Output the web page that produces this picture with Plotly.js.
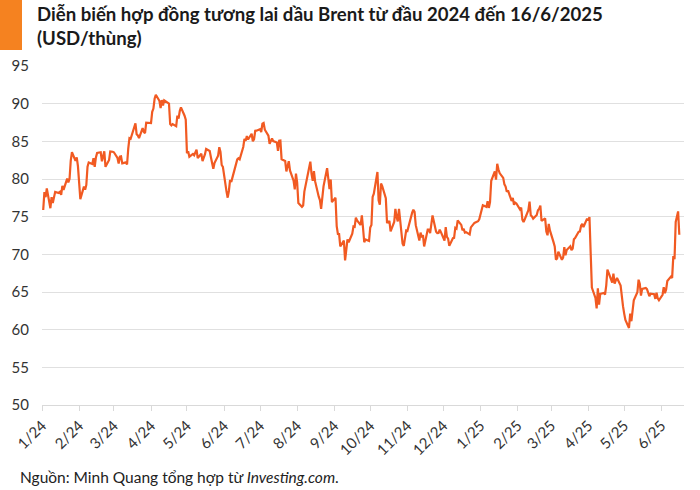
<!DOCTYPE html>
<html>
<head>
<meta charset="utf-8">
<script src="https://cdn.plot.ly/plotly-3.0.1.min.js"></script>
<style>html,body{margin:0;padding:0;background:#fff;}#chart{width:700px;height:490px;}</style>
</head>
<body>
<div id="chart"></div>
<script>
const dates2024 = [
'2024-01-02','2024-01-03','2024-01-04','2024-01-05','2024-01-08','2024-01-09','2024-01-10','2024-01-11','2024-01-12','2024-01-15','2024-01-16','2024-01-17','2024-01-18','2024-01-19','2024-01-22','2024-01-23','2024-01-24','2024-01-25','2024-01-26','2024-01-29','2024-01-30','2024-01-31',
'2024-02-01','2024-02-02','2024-02-05','2024-02-06','2024-02-07','2024-02-08','2024-02-09','2024-02-12','2024-02-13','2024-02-14','2024-02-15','2024-02-16','2024-02-19','2024-02-20','2024-02-21','2024-02-22','2024-02-23','2024-02-26','2024-02-27','2024-02-28','2024-02-29',
'2024-03-01','2024-03-04','2024-03-05','2024-03-06','2024-03-07','2024-03-08','2024-03-11','2024-03-12','2024-03-13','2024-03-14','2024-03-15','2024-03-18','2024-03-19','2024-03-20','2024-03-21','2024-03-22','2024-03-25','2024-03-26','2024-03-27','2024-03-28',
'2024-04-01','2024-04-02','2024-04-03','2024-04-04','2024-04-05','2024-04-08','2024-04-09','2024-04-10','2024-04-11','2024-04-12','2024-04-15','2024-04-16','2024-04-17','2024-04-18','2024-04-19','2024-04-22','2024-04-23','2024-04-24','2024-04-25','2024-04-26','2024-04-29','2024-04-30',
'2024-05-01','2024-05-02','2024-05-03','2024-05-06','2024-05-07','2024-05-08','2024-05-09','2024-05-10','2024-05-13','2024-05-14','2024-05-15','2024-05-16','2024-05-17','2024-05-20','2024-05-21','2024-05-22','2024-05-23','2024-05-24','2024-05-27','2024-05-28','2024-05-29','2024-05-30','2024-05-31',
'2024-06-03','2024-06-04','2024-06-05','2024-06-06','2024-06-07','2024-06-10','2024-06-11','2024-06-12','2024-06-13','2024-06-14','2024-06-17','2024-06-18','2024-06-19','2024-06-20','2024-06-21','2024-06-24','2024-06-25','2024-06-26','2024-06-27','2024-06-28',
'2024-07-01','2024-07-02','2024-07-03','2024-07-04','2024-07-05','2024-07-08','2024-07-09','2024-07-10','2024-07-11','2024-07-12','2024-07-15','2024-07-16','2024-07-17','2024-07-18','2024-07-19','2024-07-22','2024-07-23','2024-07-24','2024-07-25','2024-07-26','2024-07-29','2024-07-30','2024-07-31',
'2024-08-01','2024-08-02','2024-08-05','2024-08-06','2024-08-07','2024-08-08','2024-08-09','2024-08-12','2024-08-13','2024-08-14','2024-08-15','2024-08-16','2024-08-19','2024-08-20','2024-08-21','2024-08-22','2024-08-23','2024-08-26','2024-08-27','2024-08-28','2024-08-29','2024-08-30',
'2024-09-02','2024-09-03','2024-09-04','2024-09-05','2024-09-06','2024-09-09','2024-09-10','2024-09-11','2024-09-12','2024-09-13','2024-09-16','2024-09-17','2024-09-18','2024-09-19','2024-09-20','2024-09-23','2024-09-24','2024-09-25','2024-09-26','2024-09-27','2024-09-30',
'2024-10-01','2024-10-02','2024-10-03','2024-10-04','2024-10-07','2024-10-08','2024-10-09','2024-10-10','2024-10-11','2024-10-14','2024-10-15','2024-10-16','2024-10-17','2024-10-18','2024-10-21','2024-10-22','2024-10-23','2024-10-24','2024-10-25','2024-10-28','2024-10-29','2024-10-30','2024-10-31',
'2024-11-01','2024-11-04','2024-11-05','2024-11-06','2024-11-07','2024-11-08','2024-11-11','2024-11-12','2024-11-13','2024-11-14','2024-11-15','2024-11-18','2024-11-19','2024-11-20','2024-11-21','2024-11-22','2024-11-25','2024-11-26','2024-11-27','2024-11-28','2024-11-29',
'2024-12-02','2024-12-03','2024-12-04','2024-12-05','2024-12-06','2024-12-09','2024-12-10','2024-12-11','2024-12-12','2024-12-13','2024-12-16','2024-12-17','2024-12-18','2024-12-19','2024-12-20','2024-12-23','2024-12-24','2024-12-27','2024-12-30','2024-12-31'
];
const prices2024 = [
75.89,78.25,77.59,78.76,76.12,77.59,76.80,77.41,78.29,78.15,78.29,77.88,79.10,78.56,80.06,79.55,80.04,82.43,83.55,82.40,82.87,81.71,
78.70,77.33,78.99,78.59,79.21,81.63,82.19,82.00,82.77,81.60,82.86,83.47,83.56,82.34,83.03,83.67,81.62,82.53,83.65,83.68,83.62,
83.55,82.80,82.04,82.96,83.00,82.08,82.21,81.92,84.03,85.42,85.34,86.89,87.38,85.95,85.78,85.43,86.75,86.25,86.09,87.48,
87.42,88.92,89.35,90.65,91.17,90.38,89.42,90.48,89.74,90.45,90.10,90.02,87.29,87.11,87.29,87.00,88.42,88.02,89.01,89.50,88.40,87.86,
83.44,83.67,82.96,83.33,83.16,83.58,83.88,82.79,83.36,82.38,82.75,83.27,83.98,83.71,82.88,81.90,81.36,82.12,83.10,84.22,83.60,81.86,81.62,
78.36,77.52,78.41,79.87,79.62,81.63,81.92,82.60,82.75,82.62,84.25,85.33,85.07,85.71,85.24,86.01,85.01,85.25,86.39,86.41,
86.60,86.24,87.34,87.43,86.54,85.75,84.66,85.08,85.40,85.03,84.85,83.73,85.08,85.11,82.63,82.40,81.01,81.71,82.37,81.13,79.78,78.63,80.72,
79.52,76.81,76.30,76.48,78.33,79.16,79.66,82.30,80.69,79.76,81.04,79.68,77.66,77.20,76.05,77.22,79.02,81.43,79.55,78.65,79.94,76.93,
77.52,73.75,72.70,72.69,71.06,71.84,69.19,70.61,71.97,71.61,72.75,73.70,73.65,74.88,74.49,73.90,75.17,73.46,71.60,71.98,71.77,
73.56,73.90,77.62,78.05,80.93,77.18,76.58,79.40,79.04,77.46,74.25,74.22,74.45,73.06,74.29,76.04,74.96,74.38,76.05,71.42,71.12,72.55,73.16,
73.10,75.08,75.53,75.92,75.63,73.87,71.83,72.89,72.28,72.56,71.04,73.30,73.31,72.81,74.23,75.17,73.01,72.81,72.83,73.28,72.94,
71.83,73.62,72.31,72.09,71.12,72.14,72.19,73.52,73.41,74.49,73.91,73.19,73.39,72.88,72.94,72.63,73.58,74.17,74.39,74.64
];
const dates2025 = [
'2025-01-02','2025-01-03','2025-01-06','2025-01-07','2025-01-08','2025-01-09','2025-01-10','2025-01-13','2025-01-14','2025-01-15','2025-01-16','2025-01-17','2025-01-20','2025-01-21','2025-01-22','2025-01-23','2025-01-24','2025-01-27','2025-01-28','2025-01-29','2025-01-30','2025-01-31',
'2025-02-03','2025-02-04','2025-02-05','2025-02-06','2025-02-07','2025-02-10','2025-02-11','2025-02-12','2025-02-13','2025-02-14','2025-02-17','2025-02-18','2025-02-19','2025-02-20','2025-02-21','2025-02-24','2025-02-25','2025-02-26','2025-02-27','2025-02-28',
'2025-03-03','2025-03-04','2025-03-05','2025-03-06','2025-03-07','2025-03-10','2025-03-11','2025-03-12','2025-03-13','2025-03-14','2025-03-17','2025-03-18','2025-03-19','2025-03-20','2025-03-21','2025-03-24','2025-03-25','2025-03-26','2025-03-27','2025-03-28','2025-03-31',
'2025-04-01','2025-04-02','2025-04-03','2025-04-04','2025-04-07','2025-04-08','2025-04-09','2025-04-10','2025-04-11','2025-04-14','2025-04-15','2025-04-16','2025-04-17','2025-04-21','2025-04-22','2025-04-23','2025-04-24','2025-04-25','2025-04-28','2025-04-29','2025-04-30',
'2025-05-01','2025-05-02','2025-05-05','2025-05-06','2025-05-07','2025-05-08','2025-05-09','2025-05-12','2025-05-13','2025-05-14','2025-05-15','2025-05-16','2025-05-19','2025-05-20','2025-05-21','2025-05-22','2025-05-23','2025-05-26','2025-05-27','2025-05-28','2025-05-29','2025-05-30',
'2025-06-02','2025-06-03','2025-06-04','2025-06-05','2025-06-06','2025-06-09','2025-06-10','2025-06-11','2025-06-12','2025-06-13','2025-06-15','2025-06-16'
];
const prices2025 = [
75.93,76.51,76.30,77.05,76.16,76.92,79.76,81.01,79.92,82.03,81.29,80.79,80.15,79.29,79.00,78.29,78.50,77.08,77.49,76.58,76.87,76.76,
75.96,76.20,74.61,74.29,74.66,75.87,77.00,75.18,75.02,74.74,75.22,75.84,76.04,76.48,74.43,74.78,73.02,72.53,74.04,73.18,
71.62,71.04,69.30,69.46,70.36,69.28,69.56,70.95,69.88,70.58,71.07,70.56,70.78,72.00,72.16,73.00,73.02,73.79,74.03,73.63,74.74,
74.49,74.95,70.14,65.58,64.21,62.82,65.48,63.33,64.76,64.88,64.67,65.85,67.96,66.26,67.44,66.12,66.55,66.87,65.86,64.25,63.12,
62.13,61.29,60.23,62.15,61.12,62.84,63.91,64.96,66.63,66.09,64.53,65.41,65.54,65.38,64.91,64.44,64.78,64.70,64.09,64.90,64.15,63.90,
64.63,65.63,64.86,65.34,66.47,67.04,66.87,69.77,69.36,74.30,75.70,72.60
];
const monthTicks = ['2024-01-01','2024-02-01','2024-03-01','2024-04-01','2024-05-01','2024-06-01','2024-07-01','2024-08-01','2024-09-01','2024-10-01','2024-11-01','2024-12-01','2025-01-01','2025-02-01','2025-03-01','2025-04-01','2025-05-01','2025-06-01'];
const monthLabels = ['1/24','2/24','3/24','4/24','5/24','6/24','7/24','8/24','9/24','10/24','11/24','12/24','1/25','2/25','3/25','4/25','5/25','6/25'];
const yTicks = [50,55,60,65,70,75,80,85,90,95];

const titleText = 'Diễn biến hợp đồng tương lai dầu Brent từ đầu 2024 đến 16/6/2025<br>(USD/thùng)';
const sourceText = 'Nguồn: Minh Quang tổng hợp từ <i>Investing.com</i>.';

const trace = {
  x: dates2024.concat(dates2025),
  y: prices2024.concat(prices2025),
  type: 'scatter',
  mode: 'lines',
  line: {color: '#F15A22', width: 2.2},
  hoverinfo: 'skip'
};

const PH = 339, PW = 642;
const layout = {
  width: 700, height: 490,
  margin: {l: 42, r: 16, t: 66, b: 85},
  paper_bgcolor: '#ffffff', plot_bgcolor: '#ffffff',
  font: {family: 'Lato, "Noto Sans", sans-serif', color: '#333333'},
  showlegend: false,
  xaxis: {
    type: 'date',
    range: ['2024-01-01', '2025-06-19 22:00'],
    tickmode: 'array', tickvals: monthTicks, ticktext: monthLabels,
    tickangle: -45,
    ticks: 'outside', ticklen: 5, tickcolor: '#d9d9d9', tickwidth: 1,
    showline: true, linecolor: '#d9d9d9', linewidth: 1,
    showgrid: false, zeroline: false,
    tickfont: {size: 15, color: '#333333'}
  },
  yaxis: {
    range: [50, 95],
    tickmode: 'array', tickvals: yTicks,
    showgrid: true, gridcolor: '#e0e0e0', gridwidth: 1,
    showline: false, zeroline: false, ticks: '',
    ticklabelstandoff: 12,
    tickfont: {size: 15, color: '#333333'}
  },
  shapes: [{
    type: 'rect', xref: 'paper', yref: 'paper',
    x0: -42/PW, x1: -20/PW, y0: 355/PH, y1: 405/PH,
    fillcolor: '#F58220', line: {width: 0}, layer: 'above'
  }],
  annotations: [{
    text: titleText, showarrow: false, align: 'left',
    xref: 'paper', yref: 'paper',
    x: -7/PW, xanchor: 'left',
    y: 404/PH, yanchor: 'top',
    font: {family: 'Lato, "Noto Sans", sans-serif', size: 18.6, color: '#1a1a1a', weight: 700}
  }, {
    text: sourceText, showarrow: false,
    xref: 'paper', yref: 'paper',
    x: -24/PW, xanchor: 'left',
    y: -72/PH, yanchor: 'middle',
    font: {family: 'Lato, "Noto Sans", sans-serif', size: 15.5, color: '#222222'}
  }]
};

Plotly.newPlot('chart', [trace], layout, {staticPlot: true, displayModeBar: false});
</script>
</body>
</html>
